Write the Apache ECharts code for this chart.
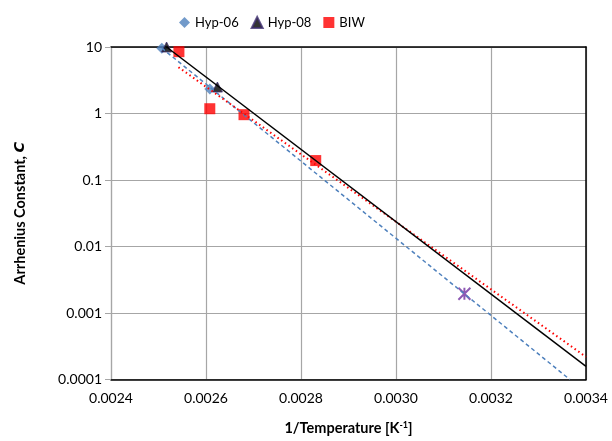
<!DOCTYPE html>
<html>
<head>
<meta charset="utf-8">
<script src="https://cdn.jsdelivr.net/npm/echarts@6/dist/echarts.min.js"></script>
<style>
  html, body { margin: 0; padding: 0; background: #fff; }
  #chart { width: 612px; height: 441px; }
</style>
</head>
<body>
<div id="chart"></div>
<script>
// Measured points: inverse temperature (1/K) and Arrhenius constant
const hyp06X = [0.002507, 0.002608];
const hyp06C = [9.6, 2.33];
const hyp08X = [0.002517, 0.002624];
const hyp08C = [10.0, 2.5];
const biwX = [0.002543, 0.002608, 0.00268, 0.002831];
const biwC = [8.5, 1.18, 0.96, 0.196];
// Extrapolated point at service temperature
const extraX = [0.003144];
const extraC = [0.00195];

// Fitted Arrhenius lines (end points)
const fit06X = [0.002507, 0.003366];
const fit06C = [9.6, 0.0001];
const fit08X = [0.002517, 0.0034];
const fit08C = [10.0, 0.000158];
const fitBiwX = [0.002542, 0.0034];
const fitBiwC = [4.97, 0.000219];

const yTickLabels = ['0.0001', '0.001', '0.01', '0.1', '1', '10'];

const pair = (xs, ys) => xs.map((x, i) => [x, ys[i]]);

const FONT = 'Lato, "Open Sans", sans-serif';
const chart = echarts.init(document.getElementById('chart'));

chart.setOption({
  animation: false,
  textStyle: { fontFamily: FONT },
  legend: {
    top: 11,
    left: 174,
    itemWidth: 11,
    itemHeight: 11,
    itemGap: 12,
    textStyle: { fontSize: 13, color: '#000', fontFamily: FONT },
    data: [
      { name: 'Hyp-06', icon: 'diamond' },
      { name: 'Hyp-08', icon: 'triangle' },
      { name: 'BIW', icon: 'rect' }
    ]
  },
  grid: { left: 111, right: 26, top: 47, bottom: 60 },
  xAxis: [{
    type: 'value',
    min: 0.0024,
    max: 0.0034,
    interval: 0.0002,
    name: '1/Temperature [K{sup|-1}]',
    nameLocation: 'middle',
    nameGap: 41,
    nameTextStyle: {
      fontSize: 14.5, fontWeight: 'bold', color: '#000', fontFamily: FONT,
      rich: { sup: { fontSize: 9, fontWeight: 'bold', verticalAlign: 'top', padding: [0, 0, 7, 0] } }
    },
    axisLine: { onZero: false, lineStyle: { color: '#000', width: 1.5 } },
    axisTick: { show: false },
    axisLabel: { fontSize: 14, color: '#000', margin: 12, formatter: v => v.toFixed(4) },
    splitLine: { show: true, lineStyle: { color: '#a6a6a6', width: 1.2 } }
  }, {
    type: 'value', position: 'top', min: 0.0024, max: 0.0034,
    axisLine: { onZero: false, lineStyle: { color: '#000', width: 1.5 } },
    axisTick: { show: false }, axisLabel: { show: false }, splitLine: { show: false }
  }],
  yAxis: [{
    type: 'log',
    logBase: 10,
    min: 0.0001,
    max: 10,
    name: 'Arrhenius Constant, {i|C}',
    nameLocation: 'middle',
    nameRotate: 90,
    nameGap: 83,
    nameTextStyle: {
      fontSize: 14.5, fontWeight: 'bold', color: '#000', fontFamily: FONT,
      rich: { i: { fontSize: 14.5, fontWeight: 'bold', fontStyle: 'italic', fontFamily: '"DejaVu Sans", sans-serif' } }
    },
    axisLine: { show: true, lineStyle: { color: '#a6a6a6', width: 1.2 } },
    axisTick: { show: true, inside: false, length: 6, lineStyle: { color: '#a6a6a6' } },
    axisLabel: {
      fontSize: 14, color: '#000', margin: 9,
      formatter: v => yTickLabels[Math.round(Math.log10(v)) + 4]
    },
    splitLine: { show: true, lineStyle: { color: '#a6a6a6', width: 1.2 } }
  }, {
    type: 'log', logBase: 10, position: 'right', min: 0.0001, max: 10,
    axisLine: { show: true, lineStyle: { color: '#000', width: 1.5 } },
    axisTick: { show: false }, axisLabel: { show: false }, splitLine: { show: false }
  }],
  series: [
    {
      name: 'Hyp-06', type: 'scatter', symbol: 'diamond', symbolSize: 11,
      itemStyle: { color: '#4f81bd' }, data: pair(hyp06X, hyp06C), z: 3
    },
    {
      name: 'Hyp-08', type: 'scatter', symbol: 'triangle', symbolSize: 10,
      itemStyle: { color: '#000', borderColor: '#403070', borderWidth: 1 },
      data: pair(hyp08X, hyp08C), z: 3
    },
    {
      name: 'BIW', type: 'scatter', symbol: 'rect', symbolSize: 11,
      itemStyle: { color: '#ff0000' }, data: pair(biwX, biwC), z: 3
    },
    {
      name: 'extrapolated', type: 'scatter',
      symbol: 'path://M0,0L10,10M10,0L0,10M5,0L5,10', symbolSize: 12,
      itemStyle: { color: 'none', borderColor: '#7030a0', borderWidth: 2 },
      data: pair(extraX, extraC), z: 3
    },
    {
      name: 'fit-06', type: 'line', showSymbol: false, symbol: 'none',
      lineStyle: { color: '#4f81bd', width: 1.5, type: [4, 3] },
      data: pair(fit06X, fit06C), z: 4
    },
    {
      name: 'fit-08', type: 'line', showSymbol: false, symbol: 'none',
      lineStyle: { color: '#000', width: 1.5 },
      data: pair(fit08X, fit08C), z: 5
    },
    {
      name: 'fit-biw', type: 'line', showSymbol: false, symbol: 'none',
      lineStyle: { color: '#ff0000', width: 2, type: [1.5, 3] },
      data: pair(fitBiwX, fitBiwC), z: 4
    }
  ]
});
</script>
</body>
</html>
